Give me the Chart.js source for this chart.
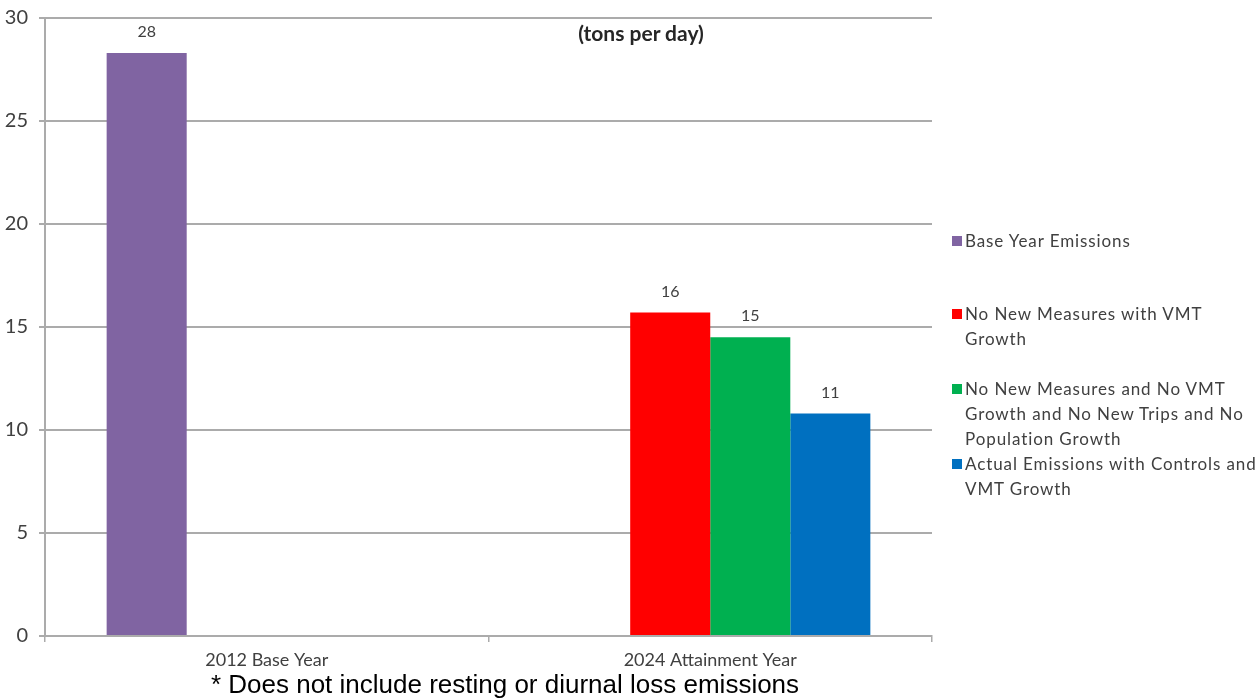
<!DOCTYPE html>
<html>
<head>
<meta charset="utf-8">
<script src="https://cdn.jsdelivr.net/npm/chart.js@4"></script>
<style>
  html, body { margin: 0; padding: 0; background: #fff; overflow: hidden; }
  #wrap { position: relative; width: 1259px; height: 700px; overflow: hidden; }
  #chart { position: absolute; left: 0; top: -5px; }
  #subtitle { position: absolute; left: 541px; top: 20px; width: 200px; text-align: center;
    font: bold 21px Lato, sans-serif; color: #262626; }
  #note { position: absolute; left: 0; top: 669px; width: 1010px; text-align: center;
    font: 26px "Liberation Sans", Arial, sans-serif; color: #000; }
  #legend { position: absolute; left: 950px; top: 0; font: 17px Lato, sans-serif; color: #404040;
    letter-spacing: 0.9px; }
  .item { position: absolute; left: 0; white-space: nowrap; line-height: 25px; }
  .item i { position: absolute; left: 2px; top: 8px; width: 10px; height: 10px; }
  .item span { display: block; margin-left: 15px; }
</style>
</head>
<body>
<div id="wrap">
  <canvas id="chart" width="1259" height="705"></canvas>
  <div id="subtitle">(tons per day)</div>
  <div id="legend"></div>
  <div id="note">* Does not include resting or diurnal loss emissions</div>
</div>
<script>
// --- chart data ---
const categories = ['2012 Base Year', '2024 Attainment Year'];
const seriesNames = [
  'Base Year Emissions',
  'No New Measures with VMT\nGrowth',
  'No New Measures and No VMT\nGrowth and No New Trips and No\nPopulation Growth',
  'Actual Emissions with Controls and\nVMT Growth'
];
const seriesColors = ['#8064A2', '#FF0000', '#00B050', '#0070C0'];
const baseYear = [28.3, null];
const noNewMeasuresVmt = [null, 15.7];
const noNewMeasuresNoGrowth = [null, 14.5];
const actualWithControls = [null, 10.8];
const yTicks = [0, 5, 10, 15, 20, 25, 30];

const seriesValues = [baseYear, noNewMeasuresVmt, noNewMeasuresNoGrowth, actualWithControls];
const legendTops = [228, 301, 376, 451];

// --- legend (html, right side) ---
const legend = document.getElementById('legend');
seriesNames.forEach((name, i) => {
  const div = document.createElement('div');
  div.className = 'item';
  div.style.top = legendTops[i] + 'px';
  div.innerHTML = '<i style="background:' + seriesColors[i] + '"></i><span>' +
    name.split('\n').join('<br>') + '</span>';
  legend.appendChild(div);
});

// --- value labels above bars ---
const valueLabels = {
  id: 'valueLabels',
  afterDatasetsDraw(chart) {
    const ctx = chart.ctx;
    ctx.save();
    ctx.font = '16px Lato, sans-serif';
    ctx.fillStyle = '#404040';
    ctx.textAlign = 'center';
    ctx.textBaseline = 'middle';
    chart.data.datasets.forEach((ds, i) => {
      chart.getDatasetMeta(i).data.forEach((bar, j) => {
        const v = ds.data[j];
        if (v == null) return;
        ctx.fillText(Math.round(v), bar.x, bar.y - 21);
      });
    });
    ctx.restore();
  }
};

const gridColor = '#ababab';

new Chart(document.getElementById('chart'), {
  type: 'bar',
  data: {
    labels: categories,
    datasets: seriesValues.map((vals, i) => ({
      label: seriesNames[i],
      data: vals,
      backgroundColor: seriesColors[i],
      categoryPercentage: 0.722,
      barPercentage: 1.0
    }))
  },
  options: {
    responsive: false,
    animation: false,
    layout: { padding: { top: 5, right: 327, bottom: 0, left: 0 } },
    plugins: {
      legend: { display: false },
      tooltip: { enabled: false }
    },
    scales: {
      x: {
        afterFit: s => { s.height = 64; },
        grid: { drawOnChartArea: false, color: gridColor, lineWidth: 1.5, tickLength: 6 },
        border: { color: gridColor, width: 2 },
        ticks: { color: '#404040', font: { family: 'Lato', size: 18 }, padding: 7 }
      },
      y: {
        min: 0,
        max: 30,
        afterFit: s => { s.width = 45; },
        afterBuildTicks: s => { s.ticks = yTicks.map(v => ({ value: v })); },
        grid: { color: gridColor, lineWidth: 2, tickLength: 6 },
        border: { color: gridColor, width: 2 },
        ticks: { color: '#404040', font: { family: 'Lato', size: 20 }, padding: 11 }
      }
    }
  },
  plugins: [valueLabels]
});
</script>
</body>
</html>
